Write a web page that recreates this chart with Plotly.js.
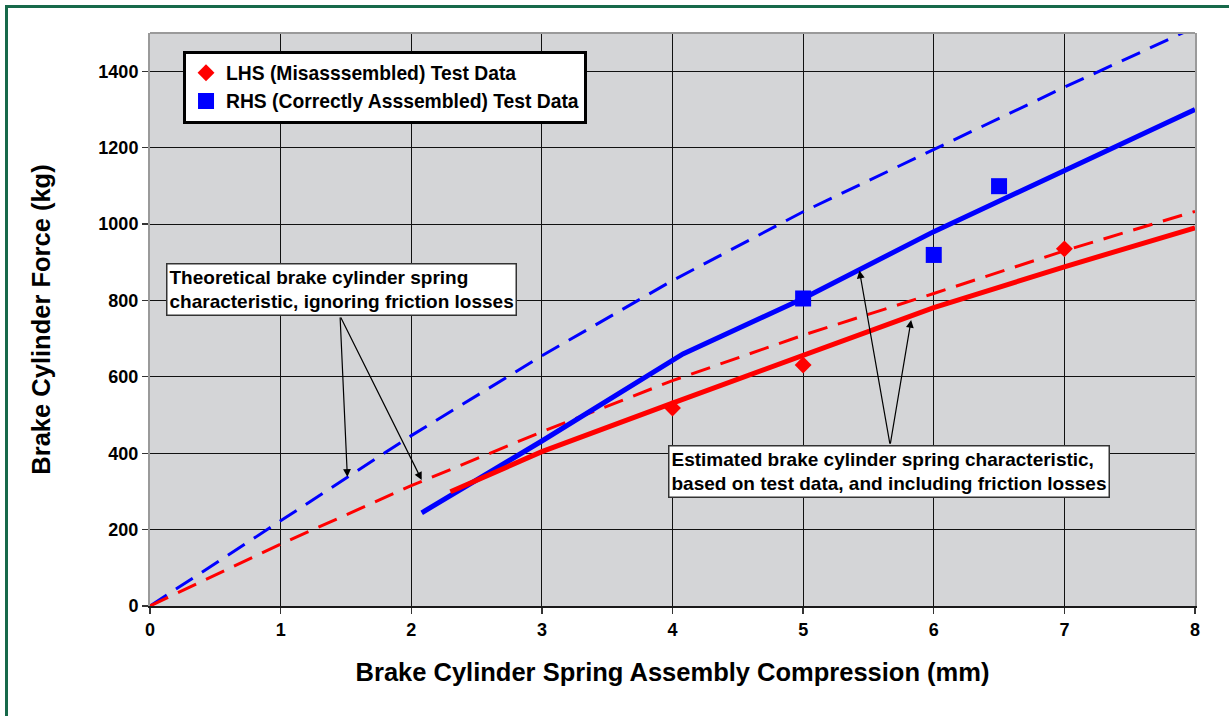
<!DOCTYPE html>
<html>
<head>
<meta charset="utf-8">
<script src="https://cdn.plot.ly/plotly-3.0.1.min.js"></script>
<style>
  html, body { margin: 0; padding: 0; background: #ffffff; }
  #wrap { position: relative; width: 1229px; height: 716px; overflow: hidden; }
  #chart { position: absolute; left: 0; top: 0; width: 1229px; height: 716px; }
  #frame { position: absolute; left: 5px; top: 5px; width: 1300px; height: 709px;
           border-left: 3px solid #17694a; border-top: 3px solid #17694a;
           border-bottom: 1px solid #dfe8e4; pointer-events: none; }
</style>
</head>
<body>
<div id="wrap">
  <div id="chart"></div>
  <div id="frame"></div>
</div>
<script>
// Theoretical characteristics (ignoring friction losses)
const theoX = [0, 1, 2, 3, 4, 5, 6, 7, 8];
const rhsTheoY = [0, 222, 446, 655, 852, 1032, 1194, 1358, 1515];
const lhsTheoY = [0, 162, 315, 456, 590, 709, 818, 930, 1033];

// Estimated characteristics (based on test data, incl. friction)
const lhsEstX = [2.3, 3, 4, 5, 6, 7, 8];
const lhsEstY = [299, 404, 531, 657, 781, 888, 990];
const rhsEstX = [2.08, 3, 4.08, 5, 6, 7, 8];
const rhsEstY = [244, 432, 660, 805, 980, 1140, 1300];

// Test data
const lhsTestX = [4, 5, 7];
const lhsTestY = [518, 631, 935];
const rhsTestX = [5, 6, 6.5];
const rhsTestY = [805, 919, 1099];

const legendNames = ['LHS (Misasssembled) Test Data', 'RHS (Correctly Asssembled) Test Data'];
const note1 = 'Theoretical brake cylinder spring<br>characteristic, ignoring friction losses';
const note2 = 'Estimated brake cylinder spring characteristic,<br>based on test data, and including friction losses';

const RED = '#ff0000';
const BLUE = '#0000ff';
const FONT = 'Liberation Sans, Arial, sans-serif';

const traces = [
  { x: theoX, y: rhsTheoY, mode: 'lines', line: { color: BLUE, width: 3, dash: '20px,11px' }, showlegend: false, hoverinfo: 'skip' },
  { x: theoX, y: lhsTheoY, mode: 'lines', line: { color: RED, width: 3, dash: '20px,11px' }, showlegend: false, hoverinfo: 'skip' },
  { x: rhsEstX, y: rhsEstY, mode: 'lines', line: { color: BLUE, width: 5 }, showlegend: false, hoverinfo: 'skip' },
  { x: lhsEstX, y: lhsEstY, mode: 'lines', line: { color: RED, width: 5 }, showlegend: false, hoverinfo: 'skip' },
  { x: lhsTestX, y: lhsTestY, mode: 'markers', name: legendNames[0], marker: { symbol: 'diamond', size: 13, color: RED } },
  { x: rhsTestX, y: rhsTestY, mode: 'markers', name: legendNames[1], marker: { symbol: 'square', size: 16, color: BLUE } }
];

const arrowCommon = { xref: 'x', yref: 'y', axref: 'x', ayref: 'y', text: '', showarrow: true,
  arrowhead: 2, arrowsize: 1.3, arrowwidth: 1.2, arrowcolor: '#000000', standoff: 0, startstandoff: 0 };

const layout = {
  width: 1229, height: 716,
  margin: { l: 150, r: 34, t: 33, b: 110 },
  paper_bgcolor: 'rgba(0,0,0,0)',
  plot_bgcolor: '#d4d5d7',
  font: { family: FONT, size: 18, color: '#000000', weight: 'bold' },
  showlegend: true,
  legend: {
    x: 0.0316, y: 0.969, xanchor: 'left', yanchor: 'top',
    bgcolor: '#ffffff', bordercolor: '#000000', borderwidth: 3,
    font: { family: FONT, size: 19.3, color: '#000000', weight: 'bold' },
    tracegroupgap: 0
  },
  xaxis: {
    range: [0, 8], dtick: 1, tick0: 0,
    showgrid: true, gridcolor: '#111111', gridwidth: 1,
    zeroline: false, showline: true, linecolor: '#1a1a1a', linewidth: 2,
    ticks: 'outside', ticklen: 6, tickwidth: 1.3, tickcolor: '#333333',
    tickfont: { family: FONT, size: 18, color: '#000000', weight: 'bold' },
    title: { text: 'Brake Cylinder Spring Assembly Compression (mm)', standoff: 25,
             font: { family: FONT, size: 25.5, color: '#000000', weight: 'bold' } },
    fixedrange: true
  },
  yaxis: {
    range: [0, 1500], dtick: 200, tick0: 0,
    showgrid: true, gridcolor: '#111111', gridwidth: 1,
    zeroline: false, showline: true, linecolor: '#9a9a9a', linewidth: 2, mirror: true,
    ticks: 'outside', ticklen: 6, tickwidth: 1.3, tickcolor: '#333333',
    tickfont: { family: FONT, size: 18, color: '#000000', weight: 'bold' },
    title: { text: 'Brake Cylinder Force (kg)', standoff: 40,
             font: { family: FONT, size: 25.5, color: '#000000', weight: 'bold' } },
    fixedrange: true
  },
  shapes: [
    { type: 'line', xref: 'paper', yref: 'paper', x0: 0, x1: 1, y0: 1, y1: 1,
      line: { color: '#9a9a9a', width: 2 }, layer: 'above' }
  ],
  annotations: [
    Object.assign({}, arrowCommon, { x: 1.511, y: 338, ax: 1.455, ay: 759 }),
    Object.assign({}, arrowCommon, { x: 2.08, y: 330, ax: 1.455, ay: 759 }),
    Object.assign({}, arrowCommon, { x: 5.431, y: 878, ax: 5.666, ay: 421 }),
    Object.assign({}, arrowCommon, { x: 5.827, y: 749, ax: 5.666, ay: 421 }),
    { xref: 'x', yref: 'y', x: 1.466, y: 828, text: note1, showarrow: false, align: 'left',
      bgcolor: '#ffffff', bordercolor: '#333333', borderwidth: 1.5, borderpad: 2,
      font: { family: FONT, size: 19, color: '#000000', weight: 'bold' } },
    { xref: 'x', yref: 'y', x: 5.655, y: 351, text: note2, showarrow: false, align: 'left',
      bgcolor: '#ffffff', bordercolor: '#333333', borderwidth: 1.5, borderpad: 2,
      font: { family: FONT, size: 19, color: '#000000', weight: 'bold' } }
  ]
};

Plotly.newPlot('chart', traces, layout, { displayModeBar: false, staticPlot: true });
</script>
</body>
</html>
